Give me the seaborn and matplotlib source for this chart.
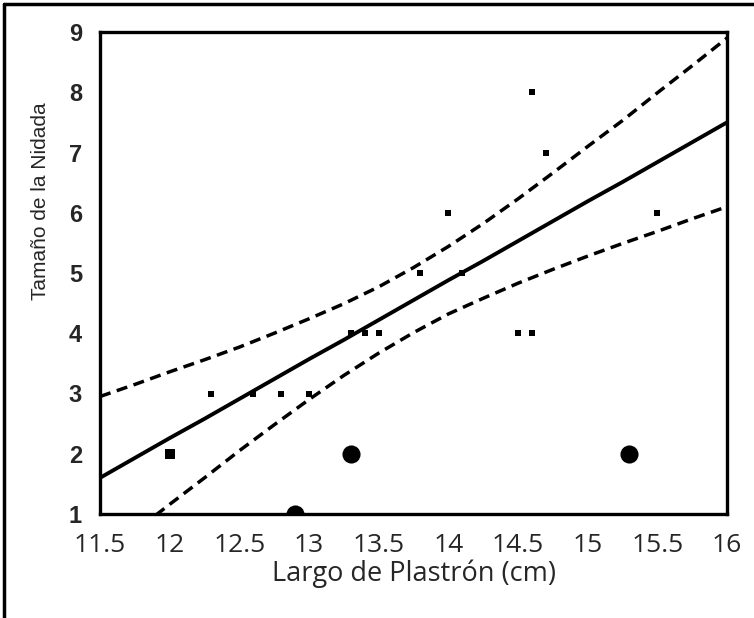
import matplotlib
matplotlib.use("Agg")
import matplotlib.pyplot as plt
import seaborn as sns
import pandas as pd
from matplotlib.lines import Line2D

# ---- data ----
sq_x = [12.0, 12.3, 12.6, 12.8, 13.0, 13.3, 13.4, 13.5, 13.8, 14.0, 14.1, 14.5, 14.6, 14.6, 14.7, 15.5]
sq_y = [2, 3, 3, 3, 3, 4, 4, 4, 5, 6, 5, 4, 4, 8, 7, 6]
circ_x = [12.9, 13.3, 15.3]
circ_y = [1, 2, 2]

fit_x = [11.5, 11.75, 12.0, 12.25, 12.5, 12.75, 13.0, 13.25, 13.5, 13.75,
         14.0, 14.25, 14.5, 14.75, 15.0, 15.25, 15.5, 15.75, 16.0]
fit_y = [1.60, 1.93, 2.26, 2.58, 2.91, 3.24, 3.57, 3.89, 4.22, 4.55,
         4.88, 5.20, 5.53, 5.86, 6.19, 6.51, 6.84, 7.17, 7.50]
upper_y = [2.95, 3.15, 3.36, 3.56, 3.77, 4.00, 4.24, 4.49, 4.77, 5.09,
           5.44, 5.82, 6.23, 6.66, 7.10, 7.53, 7.99, 8.44, 8.90]
lower_y = [0.25, 0.71, 1.16, 1.60, 2.05, 2.48, 2.90, 3.30, 3.67, 4.01,
           4.32, 4.58, 4.83, 5.06, 5.28, 5.49, 5.69, 5.90, 6.10]

x_ticks = [11.5, 12, 12.5, 13, 13.5, 14, 14.5, 15, 15.5, 16]
x_tick_labels = ["11.5", "12", "12.5", "13", "13.5", "14", "14.5", "15", "15.5", "16"]
y_ticks = [1, 2, 3, 4, 5, 6, 7, 8, 9]

x_label = "Largo de Plastrón (cm)"
y_label = "Tamaño de la Nidada"

# ---- figure ----
sns.set_style("white")
plt.rcParams["font.family"] = ["Liberation Sans", "DejaVu Sans"]

fig = plt.figure(figsize=(7.54, 6.18), dpi=100)
ax = fig.add_axes([100 / 754, 1 - 514 / 618, 627 / 754, 482 / 618])

df_sq = pd.DataFrame({"x": sq_x, "y": sq_y})
df_c = pd.DataFrame({"x": circ_x, "y": circ_y})
df_fit = pd.DataFrame({"x": fit_x, "fit": fit_y, "up": upper_y, "lo": lower_y})

sns.lineplot(data=df_fit, x="x", y="fit", ax=ax, color="black", lw=2.8)
sns.lineplot(data=df_fit, x="x", y="up", ax=ax, color="black", lw=2.5)
sns.lineplot(data=df_fit, x="x", y="lo", ax=ax, color="black", lw=2.5)
for ln in ax.lines[1:3]:
    ln.set_dashes([3.2, 1.9])

sns.scatterplot(data=df_sq, x="x", y="y", ax=ax, marker="s", s=24, color="black",
                edgecolor="black", linewidth=0, zorder=5)
sns.scatterplot(data=df_sq.iloc[[0]], x="x", y="y", ax=ax, marker="s", s=50,
                color="black", edgecolor="black", linewidth=0, zorder=5)
sns.scatterplot(data=df_c, x="x", y="y", ax=ax, marker="o", s=170, color="black",
                edgecolor="black", linewidth=0, zorder=5)

ax.set_xlim(11.5, 16)
ax.set_ylim(1, 9)
ax.set_xticks(x_ticks)
ax.set_xticklabels(x_tick_labels, fontsize=19, family=["Open Sans", "DejaVu Sans"])
ax.set_yticks(y_ticks)
ax.set_yticklabels([str(v) for v in y_ticks], fontsize=17, fontweight="bold",
                   family=["Liberation Sans"])
ax.tick_params(axis="both", direction="out", width=2.2, color="black")
ax.tick_params(axis="x", length=12, pad=2)
ax.tick_params(axis="y", length=11, pad=2)

for sp in ax.spines.values():
    sp.set_color("black")
    sp.set_linewidth(2.4)

ax.set_xlabel(x_label, fontsize=19.5, family=["Open Sans", "DejaVu Sans"], labelpad=1)
ax.set_ylabel(y_label, fontsize=15, family=["Liberation Sans"])
ax.yaxis.set_label_coords(-0.08, 0.65)

# outer frame lines (top and left)
fig.add_artist(Line2D([0.005, 1.0], [1 - 4 / 618, 1 - 4 / 618], transform=fig.transFigure,
                      color="black", lw=2.5))
fig.add_artist(Line2D([4 / 754, 4 / 754], [0.0, 1 - 4 / 618], transform=fig.transFigure,
                      color="black", lw=2.5))

fig.savefig("out.png", dpi=100, facecolor="white")
